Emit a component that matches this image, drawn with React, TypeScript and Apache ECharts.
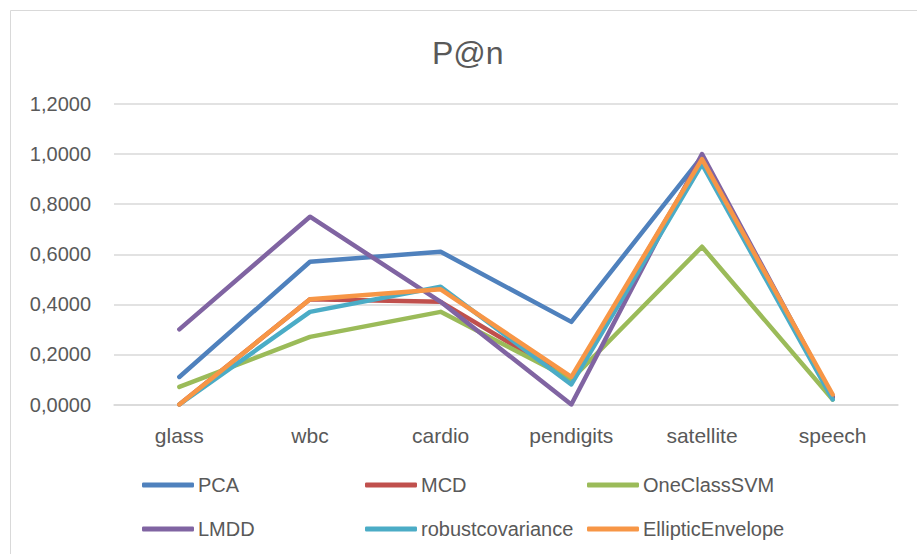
import React, { useEffect, useRef } from "react";
import * as echarts from "echarts";

// Datasets on the category axis
const categories = ["glass", "wbc", "cardio", "pendigits", "satellite", "speech"];

// P@n per method and dataset
const pca = [0.11, 0.57, 0.61, 0.33, 0.99, 0.03];
const mcd = [0.0, 0.42, 0.41, 0.1, 0.98, 0.03];
const oneClassSvm = [0.07, 0.27, 0.37, 0.1, 0.63, 0.02];
const lmdd = [0.3, 0.75, 0.41, 0.0, 1.0, 0.03];
const robustCovariance = [0.0, 0.37, 0.47, 0.08, 0.96, 0.02];
const ellipticEnvelope = [0.0, 0.42, 0.46, 0.11, 0.98, 0.04];

const seriesNames = ["PCA", "MCD", "OneClassSVM", "LMDD", "robustcovariance", "EllipticEnvelope"];
const seriesValues = [pca, mcd, oneClassSvm, lmdd, robustCovariance, ellipticEnvelope];
const seriesColors = ["#4F81BD", "#C0504D", "#9BBB59", "#8064A2", "#4BACC6", "#F79646"];

// Legend columns (two entries each)
const legendColumns = [
  ["PCA", "LMDD"],
  ["MCD", "robustcovariance"],
  ["OneClassSVM", "EllipticEnvelope"],
];

const FONT = "'Liberation Sans', Arial, sans-serif";
const TEXT = "#595959";

export default function App() {
  const ref = useRef<HTMLDivElement>(null);

  useEffect(() => {
    if (!ref.current) return;
    const chart = echarts.init(ref.current, null, { renderer: "svg" });
    const legendLeft = [142, 365, 587];

    chart.setOption({
      animation: false,
      backgroundColor: "#ffffff",
      textStyle: { fontFamily: FONT },
      title: {
        text: "P@n",
        left: 432,
        top: 37,
        padding: 0,
        textStyle: { fontFamily: FONT, fontSize: 32, fontWeight: "normal", color: TEXT },
      },
      graphic: [
        {
          type: "rect",
          shape: { x: 10.5, y: 10.5, width: 940, height: 600 },
          style: { fill: "none", stroke: "#d9d9d9", lineWidth: 1 },
          silent: true,
        },
      ],
      legend: legendColumns.map((names, i) => ({
        data: names,
        orient: "vertical",
        left: legendLeft[i],
        top: 474,
        padding: 0,
        itemWidth: 52,
        itemHeight: 5,
        itemGap: 22,
        icon: "roundRect",
        selectedMode: false,
        textStyle: { fontFamily: FONT, fontSize: 20, color: TEXT, lineHeight: 22, padding: [0, 0, 0, -1] },
      })),
      grid: { left: 114, top: 104, width: 784, height: 300.5, containLabel: false },
      xAxis: {
        type: "category",
        data: categories,
        boundaryGap: true,
        axisLine: { show: true, lineStyle: { color: "#d9d9d9", width: 1.5 } },
        axisTick: { show: false },
        axisLabel: { color: TEXT, fontSize: 21, fontFamily: FONT, margin: 20 },
      },
      yAxis: {
        type: "value",
        min: 0,
        max: 1.2,
        interval: 0.2,
        axisLine: { show: false },
        axisTick: { show: false },
        splitLine: { lineStyle: { color: "#d9d9d9", width: 1.5 } },
        axisLabel: {
          color: TEXT,
          fontSize: 20,
          fontFamily: FONT,
          margin: 23,
          formatter: (v: number) => v.toFixed(4).replace(".", ","),
        },
      },
      series: seriesNames.map((name, i) => ({
        name,
        type: "line",
        data: seriesValues[i],
        symbol: "none",
        showSymbol: false,
        color: seriesColors[i],
        lineStyle: { width: 4.5, color: seriesColors[i], cap: "round", join: "round" },
        itemStyle: { color: seriesColors[i] },
      })),
    });

    return () => chart.dispose();
  }, []);

  return (
    <div
      ref={ref}
      style={{ position: "fixed", left: 0, top: 0, width: 917, height: 554, background: "#fff" }}
    />
  );
}
